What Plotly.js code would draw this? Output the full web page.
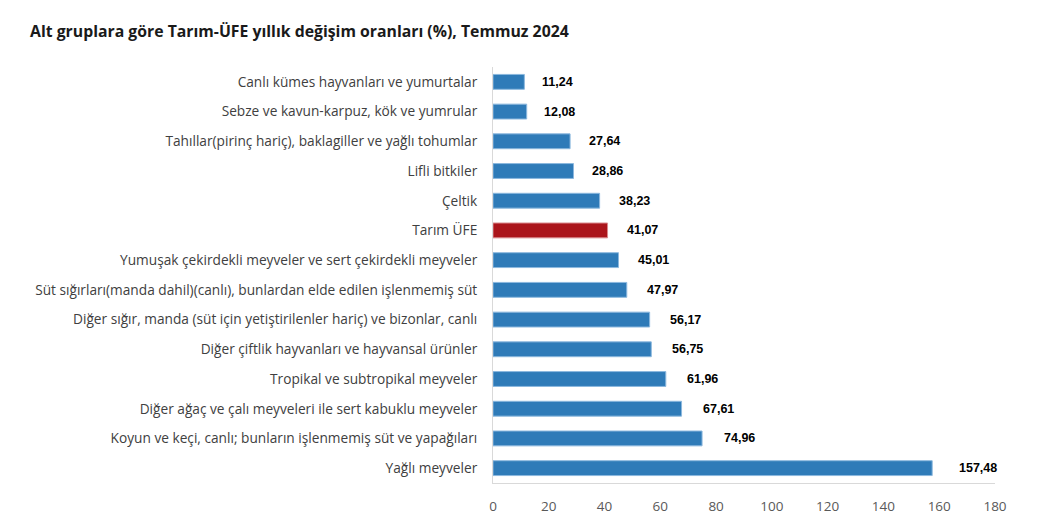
<!DOCTYPE html>
<html>
<head>
<meta charset="utf-8">
<script src="https://cdn.plot.ly/plotly-3.0.1.min.js"></script>
<style>html,body{margin:0;padding:0;background:#fff;}#chart{width:1038px;height:527px;}</style>
</head>
<body>
<div id="chart"></div>
<script>
const categories = [
  "Canlı kümes hayvanları ve yumurtalar",
  "Sebze ve kavun-karpuz, kök ve yumrular",
  "Tahıllar(pirinç hariç), baklagiller ve yağlı tohumlar",
  "Lifli bitkiler",
  "Çeltik",
  "Tarım ÜFE",
  "Yumuşak çekirdekli meyveler ve sert çekirdekli meyveler",
  "Süt sığırları(manda dahil)(canlı), bunlardan elde edilen işlenmemiş süt",
  "Diğer sığır, manda (süt için yetiştirilenler hariç) ve bizonlar, canlı",
  "Diğer çiftlik hayvanları ve hayvansal ürünler",
  "Tropikal ve subtropikal meyveler",
  "Diğer ağaç ve çalı meyveleri ile sert kabuklu meyveler",
  "Koyun ve keçi, canlı; bunların işlenmemiş süt ve yapağıları",
  "Yağlı meyveler"
];
const values = [11.24, 12.08, 27.64, 28.86, 38.23, 41.07, 45.01, 47.97, 56.17, 56.75, 61.96, 67.61, 74.96, 157.48];
const valueLabels = ["11,24","12,08","27,64","28,86","38,23","41,07","45,01","47,97","56,17","56,75","61,96","67,61","74,96","157,48"];
const highlight = "Tarım ÜFE";
const tickVals = [0,20,40,60,80,100,120,140,160,180];

const colors = categories.map(c => c === highlight ? "#ab151b" : "#2f7bb8");
const lineColors = categories.map(c => c === highlight ? "#d98a8d" : "#8cb8de");

const trace = {
  type: "bar",
  orientation: "h",
  y: categories,
  x: values,
  marker: {color: colors, line: {color: lineColors, width: 1}},
  width: 0.5,
  hoverinfo: "none"
};

const annotations = values.map((v, i) => ({
  x: v, y: categories[i], xref: "x", yref: "y",
  text: valueLabels[i], showarrow: false, xanchor: "left", xshift: 15 + v * 0.06,
  font: {family: "Liberation Sans, Arial, sans-serif", size: 12.5, color: "#000", weight: 700}
}));

const layout = {
  width: 1038, height: 527,
  margin: {l: 493, r: 43, t: 67, b: 44},
  paper_bgcolor: "#fff", plot_bgcolor: "#fff",
  title: {text: "<b>Alt gruplara göre Tarım-ÜFE yıllık değişim oranları (%), Temmuz 2024</b>",
    xref: "container", x: 30/1038, xanchor: "left", y: 0.94, yanchor: "middle",
    font: {family: "Open Sans, Noto Sans, sans-serif", size: 15.8, color: "#1a1a1a"}},
  showlegend: false,
  xaxis: {range: [0, 180], tickvals: tickVals, ticktext: tickVals.map(String),
    showgrid: false, zeroline: false, showline: true, linecolor: "#d9d9d9", linewidth: 1,
    ticks: "", ticklen: 0, ticklabelstandoff: 11,
    tickfont: {family: "Open Sans, Noto Sans, sans-serif", size: 13.5, color: "#595959"},
    automargin: false, fixedrange: true},
  yaxis: {autorange: "reversed", type: "category", showgrid: false, zeroline: false,
    showline: true, linecolor: "#d9d9d9", linewidth: 1, ticks: "", ticklen: 0, ticklabelstandoff: 12,
    tickfont: {family: "Open Sans, Noto Sans, sans-serif", size: 13.7, color: "#404040"},
    automargin: false, fixedrange: true},
  annotations: annotations
};

Plotly.newPlot("chart", [trace], layout, {displayModeBar: false, staticPlot: true});
</script>
</body>
</html>
